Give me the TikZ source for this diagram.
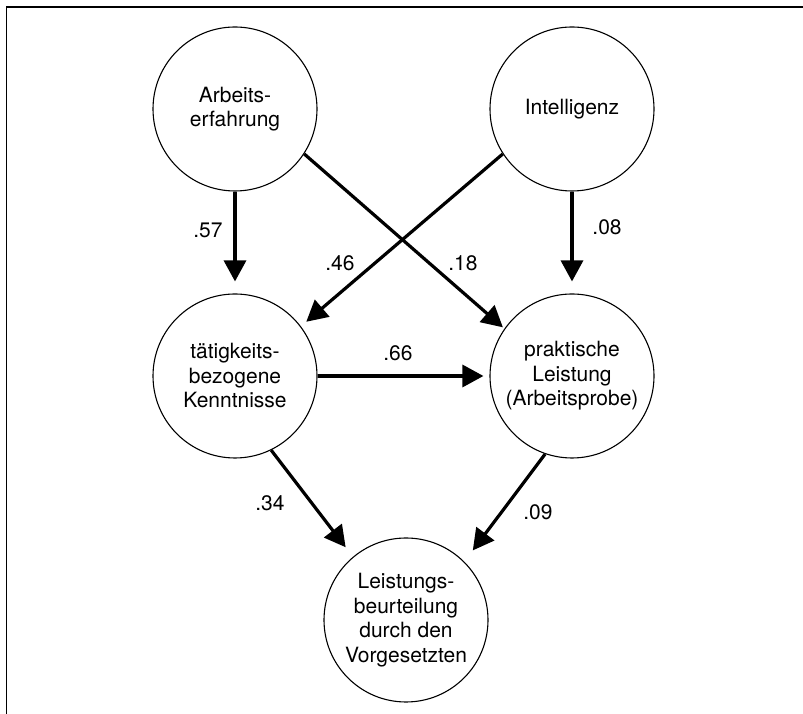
\documentclass[tikz,border=0pt]{standalone}
\usepackage{fontspec}
\setmainfont{TeX Gyre Heros}
\usetikzlibrary{arrows.meta}

\begin{document}
\begin{tikzpicture}[x=1pt, y=1pt,
        var/.style={draw, circle, line width=1.1pt, minimum size=164pt, inner sep=0pt, align=center, font=\fontsize{21}{24.5}\selectfont},
        path/.style={line width=3.2pt, -{Triangle[length=21pt, width=22pt]}},
        coef/.style={font=\fontsize{21}{24.5}\selectfont}]
                \useasboundingbox (0, 0) rectangle (803, 714);
                % frame
                \draw [line width=1.5pt] (6.5, 0) -- (6.5, 707) -- (803, 707);
                % variables
                \node [var] (arb) at (235, 605) {Arbeits-\\erfahrung};
                \node [var] (int) at (572, 605) {Intelligenz};
                \node [var] (kenn) at (235, 338) {tätigkeits-\\bezogene\\Kenntnisse};
                \node [var] (prak) at (572, 338) {praktische\\Leistung\\(Arbeitsprobe)};
                \node [var] (beur) at (406, 94) {Leistungs-\\beurteilung\\durch den\\Vorgesetzten};
                % paths
                \draw [path, shorten >=12pt] (arb.south) -- (kenn.north);
                \draw [path, shorten >=12pt] (int.south) -- (prak.north);
                \draw [path, shorten >=2pt] (arb.-33) -- (prak.145);
                \draw [path, shorten >=7pt] (int.-147) -- (kenn.37);
                \draw [path, shorten >=6pt] (kenn.east) -- (prak.west);
                \draw [path, shorten >=12pt] (kenn.-64) -- (beur.130);
                \draw [path, shorten >=14pt] (prak.-109) -- (beur.45);
                % coefficients
                \node [coef] (c57) at (208, 484) {.57};
                \node [coef] (c08) at (607, 487) {.08};
                \node [coef] (c46) at (340, 451) {.46};
                \node [coef] (c18) at (463, 451) {.18};
                \node [coef] (c66) at (398, 361) {.66};
                \node [coef] (c34) at (270, 211) {.34};
                \node [coef] (c09) at (538, 202) {.09};
            \end{tikzpicture}
\end{document}
